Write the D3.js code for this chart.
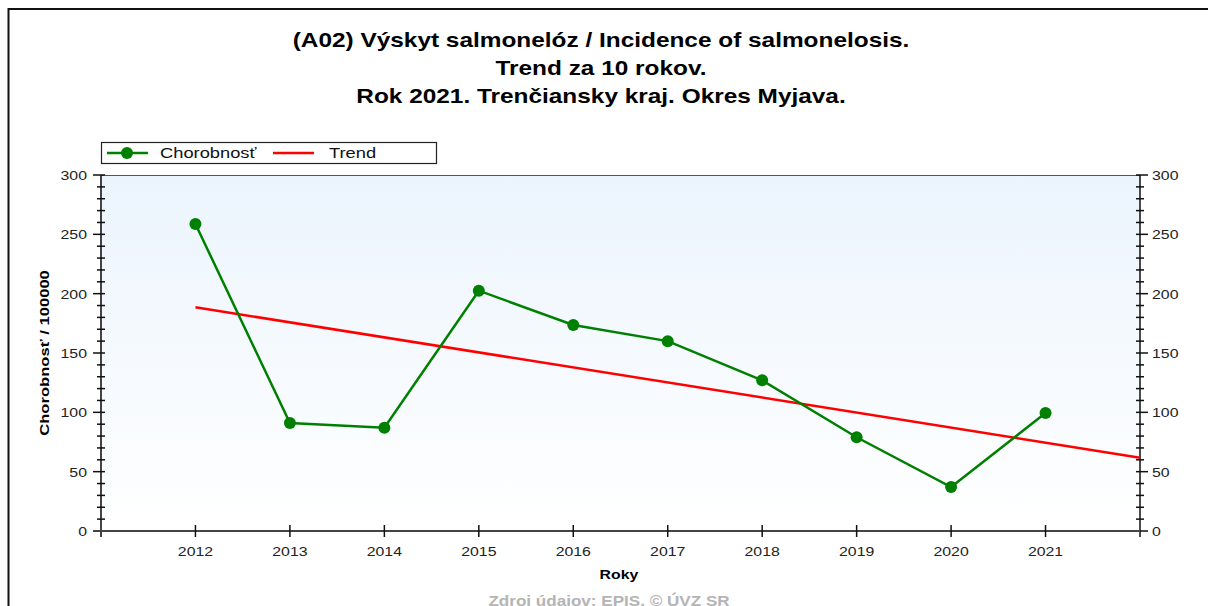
<!DOCTYPE html>
<html>
<head>
<meta charset="utf-8">
<script src="https://cdn.jsdelivr.net/npm/d3@7"></script>
<style>
  body { margin: 0; background: #fff; }
  svg { display: block; font-family: "Liberation Sans", Arial, sans-serif; }
</style>
</head>
<body>
<svg id="chart" width="1208" height="606"></svg>
<script>
// data
const years = [2012, 2013, 2014, 2015, 2016, 2017, 2018, 2019, 2020, 2021];
const incidence = [258.7, 91, 87, 202.5, 173.6, 160, 127, 79, 37, 99.4];
const trendYears = [2012, 2022];
const trendValues = [188.5, 61.8];
const yTicks = [0, 50, 100, 150, 200, 250, 300];
const titleLines = [
  "(A02) Výskyt salmonelóz / Incidence of salmonelosis.",
  "Trend za 10 rokov.",
  "Rok 2021. Trenčiansky kraj. Okres Myjava."
];

const svg = d3.select("#chart");
const pL = 101, pR = 1140, pT = 175, pB = 531;
const SX = 1.22; // the original picture is stretched sideways

const x = d3.scaleLinear().domain([2011, 2022]).range([pL, pR]);
const y = d3.scaleLinear().domain([0, 300]).range([pB, pT]);

// stretched text helper
function stretch(sel, fx, fy) {
  return sel.attr("transform", (d, i) => `translate(${fx(d, i)},${fy(d, i)}) scale(${SX},1)`);
}

// frame (only top/left show in the window)
svg.append("rect").attr("x", 8.5).attr("y", 9).attr("width", 1250).attr("height", 700)
  .attr("fill", "none").attr("stroke", "#111").attr("stroke-width", 2);

// title
stretch(svg.append("g").selectAll("text").data(titleLines).enter().append("text"),
    () => 601, (d, i) => 47 + i * 28)
  .attr("text-anchor", "middle").attr("font-size", 20).attr("font-weight", "bold")
  .attr("fill", "#000").text(d => d);

// plot background
const grad = svg.append("defs").append("linearGradient").attr("id", "bg")
  .attr("x1", 0).attr("y1", 0).attr("x2", 0).attr("y2", 1);
grad.append("stop").attr("offset", "0%").attr("stop-color", "#ebf4fd");
grad.append("stop").attr("offset", "100%").attr("stop-color", "#ffffff");
svg.append("rect").attr("x", pL).attr("y", pT).attr("width", pR - pL).attr("height", pB - pT)
  .attr("fill", "url(#bg)");

// top border of plot
svg.append("line").attr("x1", pL).attr("x2", pR).attr("y1", pT + 0.5).attr("y2", pT + 0.5)
  .attr("stroke", "#555").attr("stroke-width", 1.2);

const minor = d3.range(0, 301, 10);

// left axis
const gl = svg.append("g");
gl.append("line").attr("x1", pL).attr("x2", pL).attr("y1", pT).attr("y2", pB + 6)
  .attr("stroke", "#444").attr("stroke-width", 2);
gl.selectAll(".mn").data(minor).enter().append("line")
  .attr("x1", d => d % 50 === 0 ? pL - 8 : pL - 4).attr("x2", pL + 4)
  .attr("y1", d => y(d)).attr("y2", d => y(d)).attr("stroke", "#111").attr("stroke-width", 1.5);
stretch(gl.selectAll("text").data(yTicks).enter().append("text"), () => pL - 14, d => y(d) + 5)
  .attr("text-anchor", "end").attr("font-size", 13).attr("fill", "#222").text(d => d);

// right axis
const gr = svg.append("g");
gr.append("line").attr("x1", pR).attr("x2", pR).attr("y1", pT).attr("y2", pB + 6)
  .attr("stroke", "#111").attr("stroke-width", 1.5);
gr.selectAll(".mn").data(minor).enter().append("line")
  .attr("x1", pR - 4).attr("x2", d => d % 50 === 0 ? pR + 8 : pR + 4)
  .attr("y1", d => y(d)).attr("y2", d => y(d)).attr("stroke", "#111").attr("stroke-width", 1.5);
stretch(gr.selectAll("text").data(yTicks).enter().append("text"), () => pR + 12, d => y(d) + 5)
  .attr("text-anchor", "start").attr("font-size", 13).attr("fill", "#222").text(d => d);

// bottom axis
const gb = svg.append("g");
gb.append("line").attr("x1", pL - 8).attr("x2", pR).attr("y1", pB).attr("y2", pB)
  .attr("stroke", "#444").attr("stroke-width", 2);
gb.selectAll(".tk").data(years).enter().append("line")
  .attr("x1", d => x(d)).attr("x2", d => x(d)).attr("y1", pB - 6).attr("y2", pB + 6)
  .attr("stroke", "#111").attr("stroke-width", 1.5);
stretch(gb.selectAll("text").data(years).enter().append("text"), d => x(d), () => pB + 25)
  .attr("text-anchor", "middle").attr("font-size", 13).attr("fill", "#222").text(d => d);

// axis titles
svg.append("text").attr("transform", `translate(49,${(pT + pB) / 2}) rotate(-90) scale(1.23,1)`)
  .attr("text-anchor", "middle").attr("font-size", 13.5).attr("font-weight", "bold")
  .text("Chorobnosť / 100000");
svg.append("text").attr("transform", `translate(619,579) scale(${SX},1)`).attr("text-anchor", "middle")
  .attr("font-size", 13).attr("font-weight", "bold").text("Roky");
svg.append("text").attr("transform", `translate(609,606) scale(${SX},1)`).attr("text-anchor", "middle")
  .attr("font-size", 14).attr("font-weight", "bold").attr("fill", "#b4b4b4")
  .text("Zdroj údajov: EPIS, © ÚVZ SR");

// trend line
const line = d3.line().x(d => x(d[0])).y(d => y(d[1]));
svg.append("path").datum(d3.zip(trendYears, trendValues)).attr("d", line)
  .attr("fill", "none").attr("stroke", "#ff0000").attr("stroke-width", 2.5);

// incidence series
const pts = d3.zip(years, incidence);
svg.append("path").datum(pts).attr("d", line)
  .attr("fill", "none").attr("stroke", "#008000").attr("stroke-width", 2.5);
svg.append("g").selectAll("circle").data(pts).enter().append("circle")
  .attr("cx", d => x(d[0])).attr("cy", d => y(d[1])).attr("r", 6)
  .attr("fill", "#008000");

// legend
const lg = svg.append("g");
lg.append("rect").attr("x", 101.5).attr("y", 142.5).attr("width", 335).attr("height", 21)
  .attr("fill", "#fff").attr("stroke", "#222").attr("stroke-width", 1.2);
lg.append("line").attr("x1", 107).attr("x2", 148).attr("y1", 153).attr("y2", 153)
  .attr("stroke", "#008000").attr("stroke-width", 2.5);
lg.append("circle").attr("cx", 127).attr("cy", 153).attr("r", 6).attr("fill", "#008000");
lg.append("text").attr("transform", `translate(160,158) scale(${SX},1)`)
  .attr("font-size", 15).attr("fill", "#111").text("Chorobnosť");
lg.append("line").attr("x1", 273).attr("x2", 314).attr("y1", 153).attr("y2", 153)
  .attr("stroke", "#ff0000").attr("stroke-width", 2.5);
lg.append("text").attr("transform", `translate(329,158) scale(${SX},1)`)
  .attr("font-size", 15).attr("fill", "#111").text("Trend");
</script>
</body>
</html>
